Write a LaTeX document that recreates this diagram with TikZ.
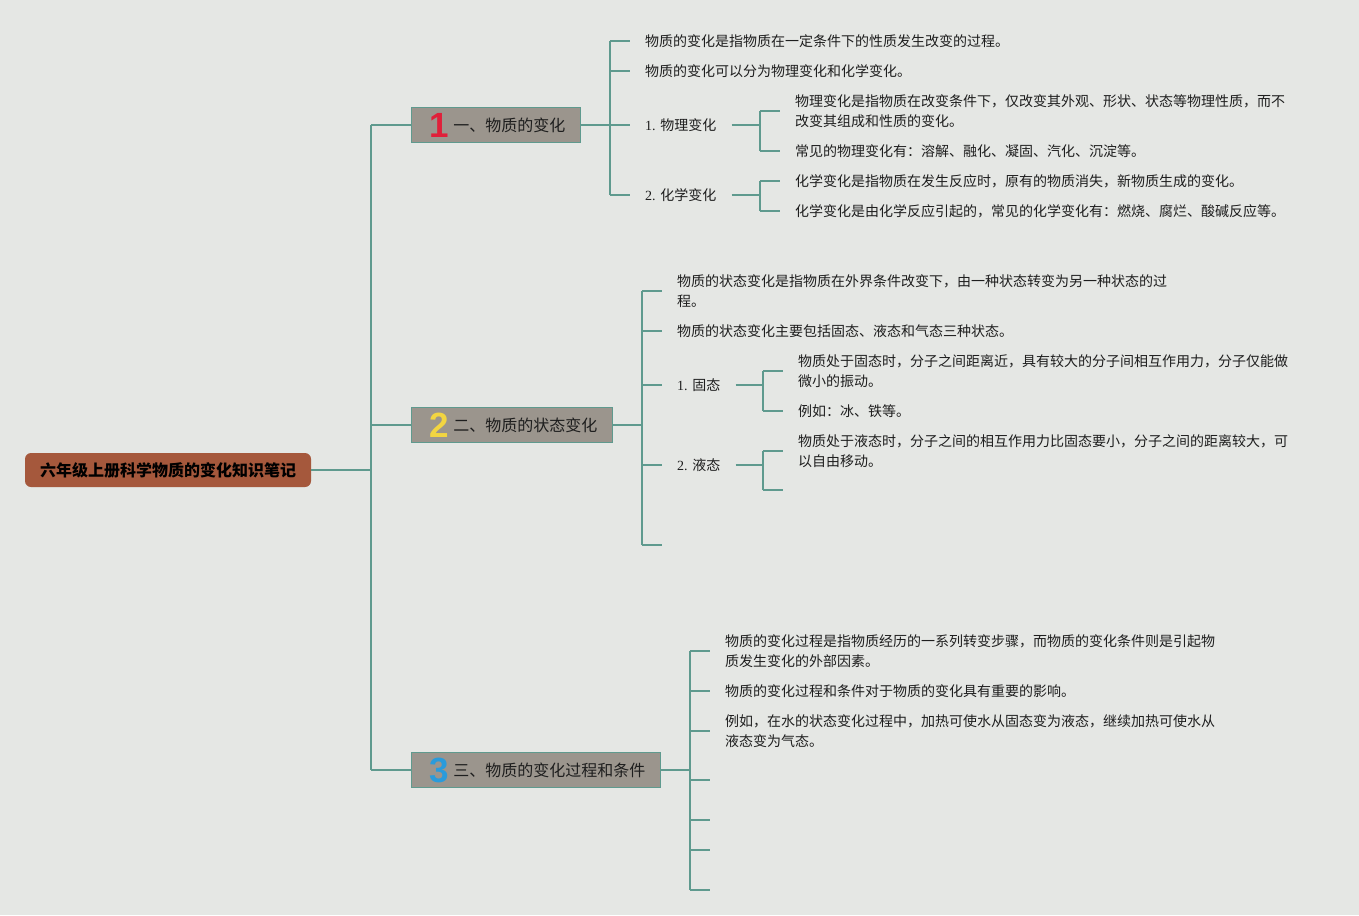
\documentclass[tikz,border=0pt]{standalone}
\usepackage{fontspec}
\setmainfont{Liberation Serif}
\newfontfamily\cjk{Noto Sans CJK SC}
\newfontfamily\numf{Liberation Sans}
\definecolor{bgc}{HTML}{E5E7E4}
\definecolor{linec}{HTML}{5F9A8E}
\definecolor{rootc}{HTML}{A5583C}
\definecolor{boxc}{HTML}{9B958D}
\definecolor{txtc}{HTML}{1E1E1E}
\definecolor{numred}{HTML}{E0203A}
\definecolor{numyel}{HTML}{F2D541}
\definecolor{numblu}{HTML}{2A9BDB}
\newcommand{\bignum}[2]{\hspace*{18pt}\makebox[20pt][c]{\smash{\raisebox{-6pt}{\numf\fontsize{35}{35}\selectfont\bfseries\color{#1}#2}}}\hspace*{4pt}}
\begin{document}
\begin{tikzpicture}[x=1pt,y=-1pt,
  conn/.style={draw=linec,line width=1.6pt},
  rootbox/.style={fill=rootc,rounded corners=6pt,minimum width=286pt,minimum height=34pt,inner sep=0pt,
    font=\cjk\fontsize{16}{18}\selectfont\bfseries,text=black},
  brbox/.style={fill=boxc,draw=linec,line width=0.8pt,minimum height=35pt,inner sep=0pt,anchor=west,
    font=\cjk\fontsize{16}{18}\selectfont,text=txtc},
  leaf/.style={anchor=west,inner xsep=15pt,inner ysep=0pt,align=left,text=txtc,
    font=\cjk\fontsize{14}{20}\selectfont},
  lab/.style={anchor=west,inner xsep=15pt,inner ysep=0pt,text=txtc,
    font=\fontsize{14}{20}\selectfont}
]
\useasboundingbox[fill=bgc] (0,0) rectangle (1359,915);

% root
\node[rootbox] (root) at (168,470) {六年级上册科学物质的变化知识笔记};

% branch boxes
\node[brbox,minimum width=169pt] (b1) at (411,125) {\bignum{numred}{1}一、物质的变化\hspace*{15pt}};
\node[brbox,minimum width=201pt] (b2) at (411,425) {\bignum{numyel}{2}二、物质的状态变化\hspace*{15pt}};
\node[brbox,minimum width=249pt] (b3) at (411,770) {\bignum{numblu}{3}三、物质的变化过程和条件\hspace*{15pt}};

% main spine
\coordinate (m) at (371,470);
\draw[conn] (root.east) -- (m);
\draw[conn] (m |- b1.west) -- (m |- b3.west);
\draw[conn] (m |- b1.west) -- (b1.west);
\draw[conn] (m |- b2.west) -- (b2.west);
\draw[conn] (m |- b3.west) -- (b3.west);

% ---------- branch 1
\coordinate (s1) at (610,125);
\node[leaf] (t11) at (630,41) {物质的变化是指物质在一定条件下的性质发生改变的过程。};
\node[leaf] (t12) at (630,71) {物质的变化可以分为物理变化和化学变化。};
\node[lab] (l11) at (630,125) {1. {\cjk 物理变化}};
\node[lab] (l12) at (630,195) {2. {\cjk 化学变化}};
\draw[conn] (b1.east) -- (s1);
\draw[conn] (s1 |- t11.west) -- (s1 |- l12.west);
\foreach \n in {t11,t12,l11,l12} \draw[conn] (s1 |- \n.west) -- (\n.west);

\coordinate (p11) at (760,125);
\node[leaf] (t111) at (780,111) {物理变化是指物质在改变条件下，仅改变其外观、形状、状态等物理性质，而不\\改变其组成和性质的变化。};
\node[leaf] (t112) at (780,151) {常见的物理变化有：溶解、融化、凝固、汽化、沉淀等。};
\draw[conn] (l11.east) -- (p11);
\draw[conn] (p11 |- t111.west) -- (p11 |- t112.west);
\foreach \n in {t111,t112} \draw[conn] (p11 |- \n.west) -- (\n.west);

\coordinate (p12) at (760,195);
\node[leaf] (t121) at (780,181) {化学变化是指物质在发生反应时，原有的物质消失，新物质生成的变化。};
\node[leaf] (t122) at (780,211) {化学变化是由化学反应引起的，常见的化学变化有：燃烧、腐烂、酸碱反应等。};
\draw[conn] (l12.east) -- (p12);
\draw[conn] (p12 |- t121.west) -- (p12 |- t122.west);
\foreach \n in {t121,t122} \draw[conn] (p12 |- \n.west) -- (\n.west);

% ---------- branch 2
\coordinate (s2) at (642,425);
\node[leaf] (t21) at (662,291) {物质的状态变化是指物质在外界条件改变下，由一种状态转变为另一种状态的过\\程。};
\node[leaf] (t22) at (662,331) {物质的状态变化主要包括固态、液态和气态三种状态。};
\node[lab] (l21) at (662,385) {1. {\cjk 固态}};
\node[lab] (l22) at (662,465) {2. {\cjk 液态}};
\coordinate (e21) at (662,545);
\draw[conn] (b2.east) -- (s2);
\draw[conn] (s2 |- t21.west) -- (s2 |- e21);
\foreach \n in {t21,t22,l21,l22} \draw[conn] (s2 |- \n.west) -- (\n.west);
\draw[conn] (s2 |- e21) -- (e21);

\coordinate (p21) at (763,385);
\node[leaf] (t211) at (783,371) {物质处于固态时，分子之间距离近，具有较大的分子间相互作用力，分子仅能做\\微小的振动。};
\node[leaf] (t212) at (783,411) {例如：冰、铁等。};
\draw[conn] (l21.east) -- (p21);
\draw[conn] (p21 |- t211.west) -- (p21 |- t212.west);
\foreach \n in {t211,t212} \draw[conn] (p21 |- \n.west) -- (\n.west);

\coordinate (p22) at (763,465);
\node[leaf] (t221) at (783,451) {物质处于液态时，分子之间的相互作用力比固态要小，分子之间的距离较大，可\\以自由移动。};
\coordinate (e221) at (783,490);
\draw[conn] (l22.east) -- (p22);
\draw[conn] (p22 |- t221.west) -- (p22 |- e221);
\draw[conn] (p22 |- t221.west) -- (t221.west);
\draw[conn] (p22 |- e221) -- (e221);

% ---------- branch 3
\coordinate (s3) at (690,770);
\node[leaf] (t31) at (710,651) {物质的变化过程是指物质经历的一系列转变步骤，而物质的变化条件则是引起物\\质发生变化的外部因素。};
\node[leaf] (t32) at (710,691) {物质的变化过程和条件对于物质的变化具有重要的影响。};
\node[leaf] (t33) at (710,731) {例如，在水的状态变化过程中，加热可使水从固态变为液态，继续加热可使水从\\液态变为气态。};
\coordinate (e31) at (710,780);
\coordinate (e32) at (710,820);
\coordinate (e33) at (710,850);
\coordinate (e34) at (710,890);
\draw[conn] (b3.east) -- (s3);
\draw[conn] (s3 |- t31.west) -- (s3 |- e34);
\foreach \n in {t31,t32,t33} \draw[conn] (s3 |- \n.west) -- (\n.west);
\foreach \n in {e31,e32,e33,e34} \draw[conn] (s3 |- \n) -- (\n);
\end{tikzpicture}
\end{document}
